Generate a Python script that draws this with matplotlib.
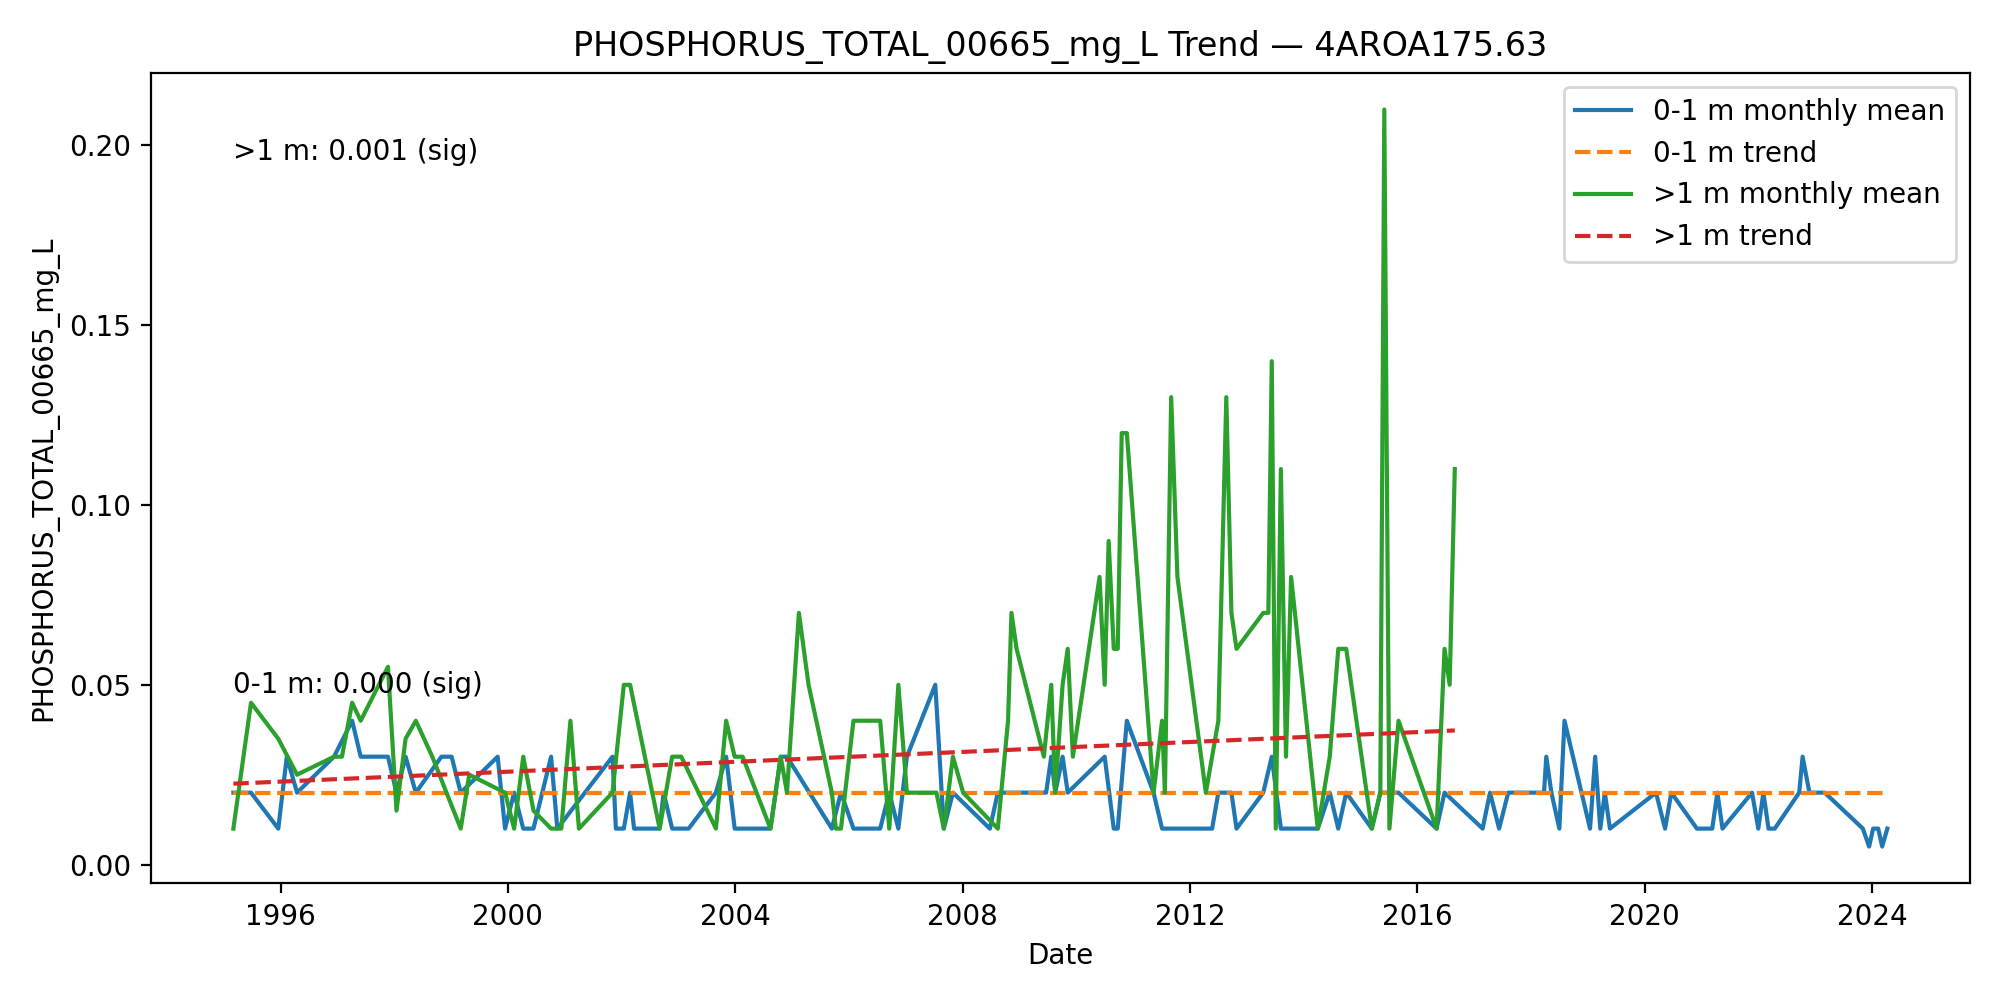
import matplotlib
matplotlib.use("Agg")
import matplotlib.pyplot as plt
import numpy as np

# decimal years and monthly means
shallow_years = [
    1995.17, 1995.48, 1995.96, 1996.11, 1996.29, 1996.94, 1997.26, 1997.41, 1997.89, 1998.04,
    1998.20, 1998.38, 1998.83, 1999.01, 1999.17, 1999.82, 1999.95, 2000.11, 2000.27, 2000.45,
    2000.76, 2000.87, 2001.84, 2001.90, 2002.04, 2002.15, 2002.22, 2002.67, 2002.74, 2002.89,
    2003.18, 2003.66, 2003.84, 2003.99, 2004.62, 2004.80, 2004.91, 2005.70, 2005.86, 2006.08,
    2006.55, 2006.71, 2006.87, 2007.02, 2007.52, 2007.67, 2007.83, 2008.48, 2008.62, 2009.47,
    2009.56, 2009.63, 2009.76, 2009.85, 2010.50, 2010.66, 2010.73, 2010.89, 2011.36, 2011.51,
    2012.39, 2012.50, 2012.73, 2012.82, 2013.29, 2013.44, 2013.60, 2014.25, 2014.46, 2014.61,
    2014.75, 2015.20, 2015.35, 2015.67, 2016.34, 2016.48, 2017.15, 2017.28, 2017.44, 2017.60,
    2018.23, 2018.27, 2018.36, 2018.50, 2018.59, 2019.04, 2019.13, 2019.22, 2019.30, 2019.39,
    2020.20, 2020.36, 2020.47, 2020.92, 2021.19, 2021.28, 2021.37, 2021.89, 2022.00, 2022.09,
    2022.18, 2022.29, 2022.72, 2022.78, 2022.90, 2023.17, 2023.84, 2023.95, 2024.02, 2024.11,
    2024.18, 2024.27,
]
shallow_values = [
    0.02, 0.02, 0.01, 0.03, 0.02, 0.03, 0.04, 0.03, 0.03, 0.02,
    0.03, 0.02, 0.03, 0.03, 0.02, 0.03, 0.01, 0.02, 0.01, 0.01,
    0.03, 0.01, 0.03, 0.01, 0.01, 0.02, 0.01, 0.01, 0.02, 0.01,
    0.01, 0.02, 0.03, 0.01, 0.01, 0.03, 0.03, 0.01, 0.02, 0.01,
    0.01, 0.02, 0.01, 0.03, 0.05, 0.01, 0.02, 0.01, 0.02, 0.02,
    0.03, 0.02, 0.03, 0.02, 0.03, 0.01, 0.01, 0.04, 0.02, 0.01,
    0.01, 0.02, 0.02, 0.01, 0.02, 0.03, 0.01, 0.01, 0.02, 0.01,
    0.02, 0.01, 0.02, 0.02, 0.01, 0.02, 0.01, 0.02, 0.01, 0.02,
    0.02, 0.03, 0.02, 0.01, 0.04, 0.01, 0.03, 0.01, 0.02, 0.01,
    0.02, 0.01, 0.02, 0.01, 0.01, 0.02, 0.01, 0.02, 0.01, 0.02,
    0.01, 0.01, 0.02, 0.03, 0.02, 0.02, 0.01, 0.005, 0.01, 0.01,
    0.005, 0.01,
]

deep_years = [
    1995.17, 1995.48, 1995.96, 1996.29, 1996.94, 1997.08, 1997.26, 1997.41, 1997.89, 1998.04,
    1998.20, 1998.38, 1998.67, 1999.17, 1999.32, 1999.95, 2000.11, 2000.27, 2000.45, 2000.76,
    2000.94, 2001.10, 2001.25, 2001.84, 2002.04, 2002.15, 2002.67, 2002.89, 2003.05, 2003.66,
    2003.84, 2003.99, 2004.13, 2004.62, 2004.80, 2004.91, 2005.12, 2005.29, 2005.70, 2005.77,
    2005.86, 2006.08, 2006.55, 2006.71, 2006.87, 2007.02, 2007.34, 2007.54, 2007.67, 2007.83,
    2008.01, 2008.62, 2008.80, 2008.86, 2008.95, 2009.43, 2009.56, 2009.63, 2009.76, 2009.85,
    2009.94, 2010.41, 2010.50, 2010.57, 2010.66, 2010.73, 2010.80, 2010.89, 2011.36, 2011.51,
    2011.56, 2011.67, 2011.78, 2012.28, 2012.50, 2012.64, 2012.73, 2012.82, 2013.29, 2013.38,
    2013.44, 2013.51, 2013.60, 2013.69, 2013.78, 2014.25, 2014.46, 2014.61, 2014.75, 2015.20,
    2015.35, 2015.42, 2015.51, 2015.67, 2016.34, 2016.48, 2016.57, 2016.66,
]
deep_values = [
    0.01, 0.045, 0.035, 0.025, 0.03, 0.03, 0.045, 0.04, 0.055, 0.015,
    0.035, 0.04, 0.03, 0.01, 0.025, 0.02, 0.01, 0.03, 0.015, 0.01,
    0.01, 0.04, 0.01, 0.02, 0.05, 0.05, 0.01, 0.03, 0.03, 0.01,
    0.04, 0.03, 0.03, 0.01, 0.03, 0.02, 0.07, 0.05, 0.02, 0.01,
    0.01, 0.04, 0.04, 0.01, 0.05, 0.02, 0.02, 0.02, 0.01, 0.03,
    0.02, 0.01, 0.04, 0.07, 0.06, 0.03, 0.05, 0.02, 0.05, 0.06,
    0.03, 0.08, 0.05, 0.09, 0.06, 0.06, 0.12, 0.12, 0.02, 0.04,
    0.02, 0.13, 0.08, 0.02, 0.04, 0.13, 0.07, 0.06, 0.07, 0.07,
    0.14, 0.01, 0.11, 0.03, 0.08, 0.01, 0.03, 0.06, 0.06, 0.01,
    0.02, 0.21, 0.01, 0.04, 0.01, 0.06, 0.05, 0.11,
]

# trend line end values
shallow_trend = [0.020, 0.020]
deep_trend = [0.0225, 0.0373]
shallow_label = "0-1 m: 0.000 (sig)"
deep_label = ">1 m: 0.001 (sig)"

param = "PHOSPHORUS_TOTAL_00665_mg_L"
station = "4AROA175.63"

fig, ax = plt.subplots(figsize=(10, 5), dpi=200)
ax.plot(shallow_years, shallow_values, color="#1f77b4", label="0-1 m monthly mean")
ax.plot([shallow_years[0], shallow_years[-1]], shallow_trend, color="#ff7f0e", linestyle="--", label="0-1 m trend")
ax.plot(deep_years, deep_values, color="#2ca02c", label=">1 m monthly mean")
ax.plot([deep_years[0], deep_years[-1]], deep_trend, color="#d62728", linestyle="--", label=">1 m trend")

ax.text(0.045, 0.228, shallow_label, transform=ax.transAxes, va="bottom")
ax.text(0.045, 0.885, deep_label, transform=ax.transAxes, va="bottom")

ax.set_xticks(np.arange(1996, 2025, 4))
ax.set_title(f"{param} Trend \u2014 {station}")
ax.set_xlabel("Date")
ax.set_ylabel(param)
ax.legend(loc="upper right")
fig.tight_layout()
fig.savefig("out.png", dpi=200)
